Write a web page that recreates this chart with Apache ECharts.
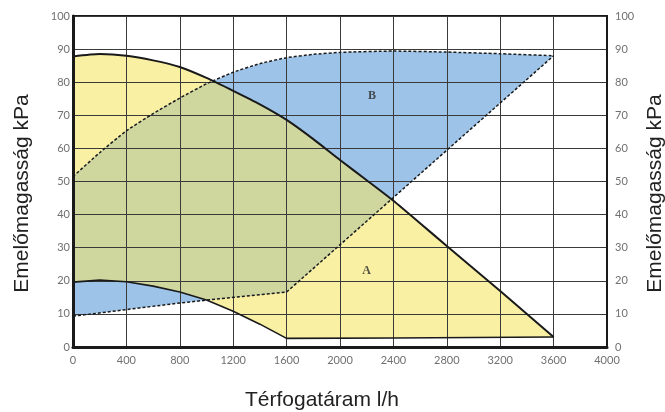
<!DOCTYPE html>
<html>
<head>
<meta charset="utf-8">
<script src="https://cdn.jsdelivr.net/npm/echarts@6/dist/echarts.min.js"></script>
<style>
  html, body { margin: 0; padding: 0; background: #fff; }
  #chart { width: 665px; height: 412px; }
</style>
</head>
<body>
<div id="chart"></div>
<script>
// pump curves: [flow l/h, head kPa]
const maxCurve = [[0, 87.8], [200, 88.5], [400, 88.0], [600, 86.6], [800, 84.6], [1000, 81.3],
  [1200, 77.4], [1400, 73.3], [1600, 68.6], [1800, 62.8], [2000, 56.5], [2200, 50.4],
  [2400, 44.2], [2600, 37.4], [2800, 30.5], [3000, 23.7], [3200, 16.9], [3400, 10.0], [3600, 3.0]]
const minCurve = [[0, 19.6], [200, 20.2], [400, 19.7], [600, 18.4], [800, 16.6], [1000, 14.2],
  [1200, 10.8], [1400, 6.9], [1600, 2.6], [2400, 2.7], [3600, 3.0]]
// operating range B (dashed)
const rangeTop = [[0, 51.5], [200, 58.7], [400, 65.3], [600, 70.5], [800, 75.2], [1000, 79.5],
  [1200, 83.0], [1400, 85.6], [1600, 87.4], [1800, 88.4], [2000, 89.0], [2400, 89.4],
  [2800, 89.1], [3200, 88.6], [3600, 88.0]]
const rangeBottom = [[0, 9.3], [400, 11.3], [800, 13.3], [1200, 15.0], [1600, 16.6], [3600, 88.0]]
const regionLabels = [['A', 2200, 23], ['B', 2240, 76]]

const YELLOW = '#f9f0a3'
const BLUE = '#9dc4e8'
const GREEN = '#cfd79f'

const chart = echarts.init(document.getElementById('chart'))

function ring(top, bottom, api) {
  const pts = top.map(p => api.coord(p))
  const back = bottom.slice().reverse().map(p => api.coord(p))
  return pts.concat(back)
}

function renderRegions(params, api) {
  const a = ring(maxCurve, minCurve, api)
  const b = ring(rangeTop, rangeBottom, api)
  return {
    type: 'group',
    children: [
      { type: 'polygon', shape: { points: a }, style: { fill: YELLOW } },
      { type: 'polygon', shape: { points: b }, style: { fill: BLUE } },
      {
        type: 'polygon',
        shape: { points: a },
        style: { fill: GREEN },
        clipPath: { type: 'polygon', shape: { points: b } }
      }
    ]
  }
}

const tickFont = { color: '#707070', fontSize: 11, fontFamily: 'Lato' }
const nameFont = { color: '#222', fontSize: 21, fontFamily: 'Liberation Sans' }
const gridLine = { show: true, lineStyle: { color: '#3a3a3a', width: 1 } }

function yAxis(pos, w, gap, margin) {
  return {
    type: 'value',
    position: pos,
    min: 0,
    max: 100,
    interval: 10,
    z: 3,
    name: 'Emelőmagasság kPa',
    nameLocation: 'middle',
    nameRotate: 90,
    nameGap: gap,
    nameTextStyle: Object.assign({ padding: [0, 24, 0, 0] }, nameFont),
    axisLine: { show: true, lineStyle: { color: '#1a1a1a', width: w } },
    axisTick: { show: false },
    axisLabel: Object.assign({ margin: margin }, tickFont),
    splitLine: pos === 'left' ? gridLine : { show: false }
  }
}

chart.setOption({
  animation: false,
  backgroundColor: '#fff',
  grid: {
    left: 73, right: 58, top: 16, bottom: 65,
    outerBoundsMode: 'none',
    containLabel: false,
    show: true, borderColor: '#1a1a1a', borderWidth: 2, backgroundColor: 'transparent'
  },
  xAxis: {
    type: 'value',
    min: 0,
    max: 4000,
    interval: 400,
    z: 3,
    name: 'Térfogatáram l/h',
    nameLocation: 'middle',
    nameGap: 43,
    nameTextStyle: Object.assign({ padding: [0, 36, 0, 0] }, nameFont),
    axisLine: { show: true, lineStyle: { color: '#1a1a1a', width: 3 } },
    axisTick: { show: false },
    axisLabel: Object.assign({ margin: 8, formatter: v => String(v) }, tickFont),
    splitLine: gridLine
  },
  yAxis: [yAxis('left', 3, 40, 3), yAxis('right', 2, 38, 8)],
  series: [
    {
      type: 'custom',
      z: 1,
      silent: true,
      renderItem: renderRegions,
      data: [[0, 0]]
    },
    {
      type: 'line', z: 5, symbol: 'none', data: maxCurve, smooth: 0.2,
      lineStyle: { color: '#1a1a1a', width: 2 }
    },
    {
      type: 'line', z: 5, symbol: 'none', data: minCurve,
      lineStyle: { color: '#1a1a1a', width: 1.6 }
    },
    {
      type: 'line', z: 5, symbol: 'none', data: rangeTop, smooth: 0.2,
      lineStyle: { color: '#1a1a1a', width: 1.5, type: [3, 2] }
    },
    {
      type: 'line', z: 5, symbol: 'none', data: rangeBottom,
      lineStyle: { color: '#1a1a1a', width: 1.5, type: [3, 2] }
    },
    {
      type: 'scatter', z: 6, symbolSize: 0,
      data: regionLabels.map(d => ({ value: [d[1], d[2]], name: d[0] })),
      label: {
        show: true, position: 'inside', formatter: '{b}',
        color: '#2a2a2a', fontSize: 12, fontWeight: 'bold', fontFamily: 'Liberation Serif'
      }
    }
  ]
})
</script>
</body>
</html>
